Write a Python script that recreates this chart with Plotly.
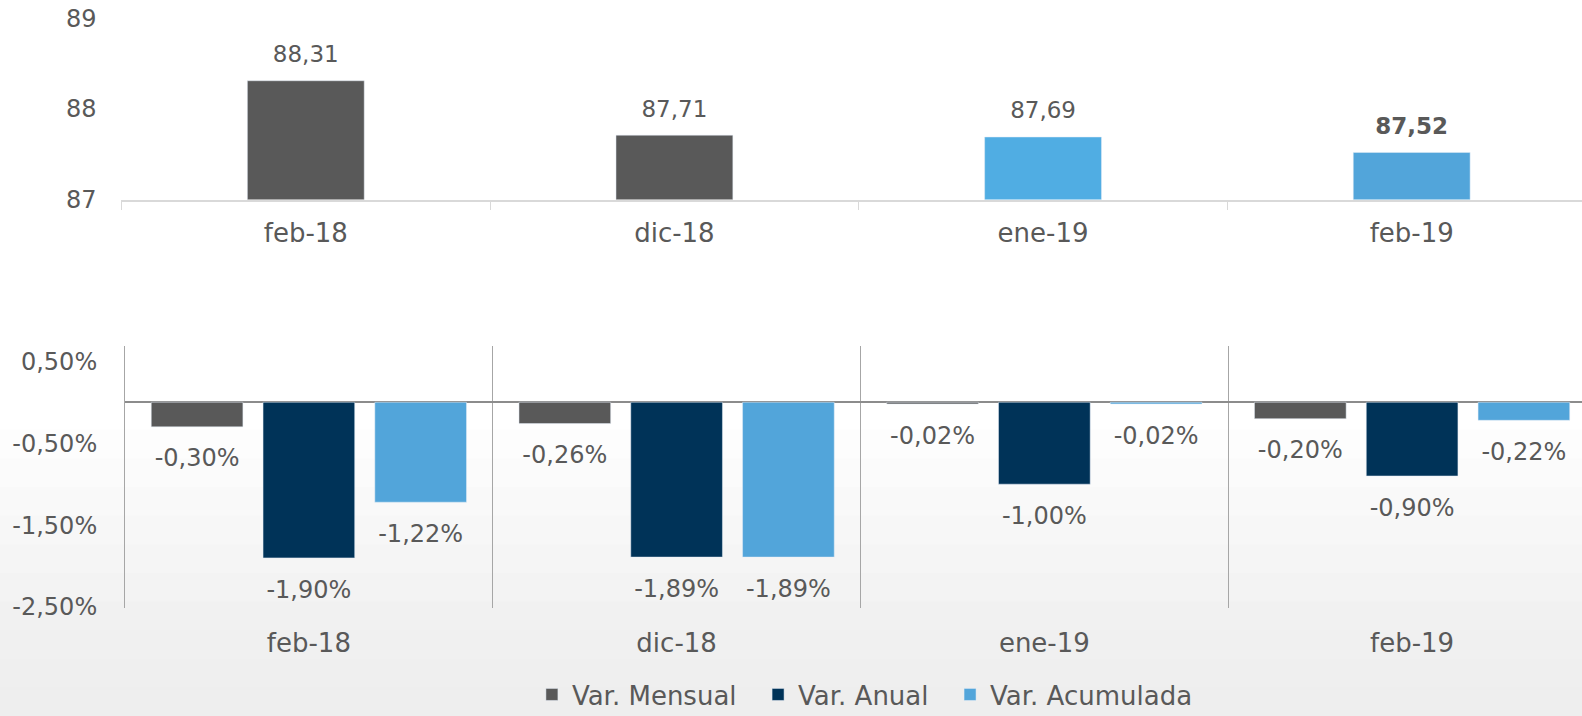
import plotly.graph_objects as go
from plotly.subplots import make_subplots

categories = ["feb-18", "dic-18", "ene-19", "feb-19"]
indice = [88.31, 87.71, 87.69, 87.52]
var_mensual = [-0.30, -0.26, -0.02, -0.20]
var_anual = [-1.90, -1.89, -1.00, -0.90]
var_acumulada = [-1.22, -1.89, -0.02, -0.22]
series_names = ["Var. Mensual", "Var. Anual", "Var. Acumulada"]
top_tickvals = [87, 88, 89]
top_ticktext = ["87", "88", "89"]
bot_tickvals = [0.5, -0.5, -1.5, -2.5]
bot_ticktext = ["0,50%", "-0,50%", "-1,50%", "-2,50%"]

GRAY = "#595959"
NAVY = "#003358"
LBLUE = "#52A5DA"
top_colors = [GRAY, GRAY, "#50ADE3", "#52A5DA"]
TXT = "#595959"
FONT = "DejaVu Sans"
W, H = 1582, 716
NBSP = "\u00a0"
K = 0.992  # compensation for the capture scaling


def px_x(p):
    return p / K / W


def px_y(p):
    return 1 - p / K / H


def fmt(v, pct=False):
    s = f"{v:.2f}".replace(".", ",")
    return s + "%" if pct else s


top_text = [fmt(v) for v in indice]
top_text[-1] = "<b>" + top_text[-1] + "</b>"

fig = make_subplots(rows=2, cols=1)

fig.add_trace(go.Bar(x=categories, y=indice, marker_color=top_colors, showlegend=False,
                     width=0.317, hoverinfo="skip"), row=1, col=1)
fig.add_trace(go.Scatter(x=categories, y=indice, mode="markers+text", text=top_text,
                         textposition="top center", marker=dict(size=19, opacity=0),
                         textfont=dict(color=TXT, size=23, family=FONT), cliponaxis=False,
                         showlegend=False, hoverinfo="skip"), row=1, col=1)

series = list(zip(series_names, [var_mensual, var_anual, var_acumulada], [GRAY, NAVY, LBLUE]))
for i, (name, vals, col) in enumerate(series):
    label = name + (NBSP * 2 if i < len(series) - 1 else "")
    fig.add_trace(go.Bar(x=categories, y=vals, name=label, marker_color=col,
                         offsetgroup=name, hoverinfo="skip"), row=2, col=1)
for name, vals, col in series:
    fig.add_trace(go.Scatter(x=categories, y=vals, mode="markers+text",
                             text=[fmt(v, True) for v in vals], textposition="bottom center",
                             marker=dict(size=33, opacity=0), offsetgroup=name,
                             textfont=dict(color=TXT, size=24, family=FONT), cliponaxis=False,
                             showlegend=False, hoverinfo="skip"), row=2, col=1)

fig.update_layout(
    width=W, height=H, margin=dict(l=0, r=0, t=0, b=0, autoexpand=False),
    paper_bgcolor="white", plot_bgcolor="rgba(0,0,0,0)",
    font=dict(family=FONT, color=TXT, size=24),
    barmode="group", bargap=0.088, bargroupgap=0.18, scattermode="group",
    showlegend=True,
    legend=dict(orientation="h", x=px_x(858), xanchor="center", y=px_y(689), yanchor="middle",
                font=dict(size=26, color=TXT, family=FONT), bgcolor="rgba(0,0,0,0)"),
    xaxis=dict(domain=[px_x(120.5), 1], range=[-0.5, 3.462], type="category", showline=True,
               linecolor="#d9d9d9", linewidth=1.5, ticks="outside", tickson="boundaries",
               ticklen=9, tickcolor="#d9d9d9", showgrid=False, ticklabelstandoff=9,
               tickfont=dict(size=26), automargin=False),
    yaxis=dict(domain=[px_y(198), px_y(18)], range=[87, 89], tickvals=top_tickvals,
               ticktext=top_ticktext, showgrid=False, zeroline=False, showline=False,
               ticklabelstandoff=24, tickfont=dict(size=24), automargin=False),
    xaxis2=dict(domain=[px_x(124), 1], range=[-0.5, 3.462], type="category", showline=False,
                ticks="", tickson="boundaries", showgrid=True, gridcolor="#a6a6a6",
                gridwidth=1, ticklabelstandoff=17, tickfont=dict(size=26), automargin=False),
    yaxis2=dict(domain=[px_y(603), px_y(343)], range=[-2.51, 0.69], tickvals=bot_tickvals,
                ticktext=bot_ticktext, showgrid=False, zeroline=True, zerolinecolor="#8c8c8c",
                zerolinewidth=1.5, showline=True, linecolor="#a6a6a6", linewidth=1,
                ticklabelstandoff=22, tickfont=dict(size=24), automargin=False),
)

# subtle background wash in the lower part
shapes = []
for i in range(10):
    y1 = 0.40 - i * 0.04
    shapes.append(dict(type="rect", xref="paper", yref="paper", x0=0, x1=1, y0=0, y1=y1,
                       fillcolor="#e4e5e7", opacity=0.07, line=dict(width=0), layer="below"))
fig.update_layout(shapes=shapes)

fig.write_html("out.html", config={"displayModeBar": False},
               post_script="document.body.style.margin='0';document.body.style.overflow='hidden';")
